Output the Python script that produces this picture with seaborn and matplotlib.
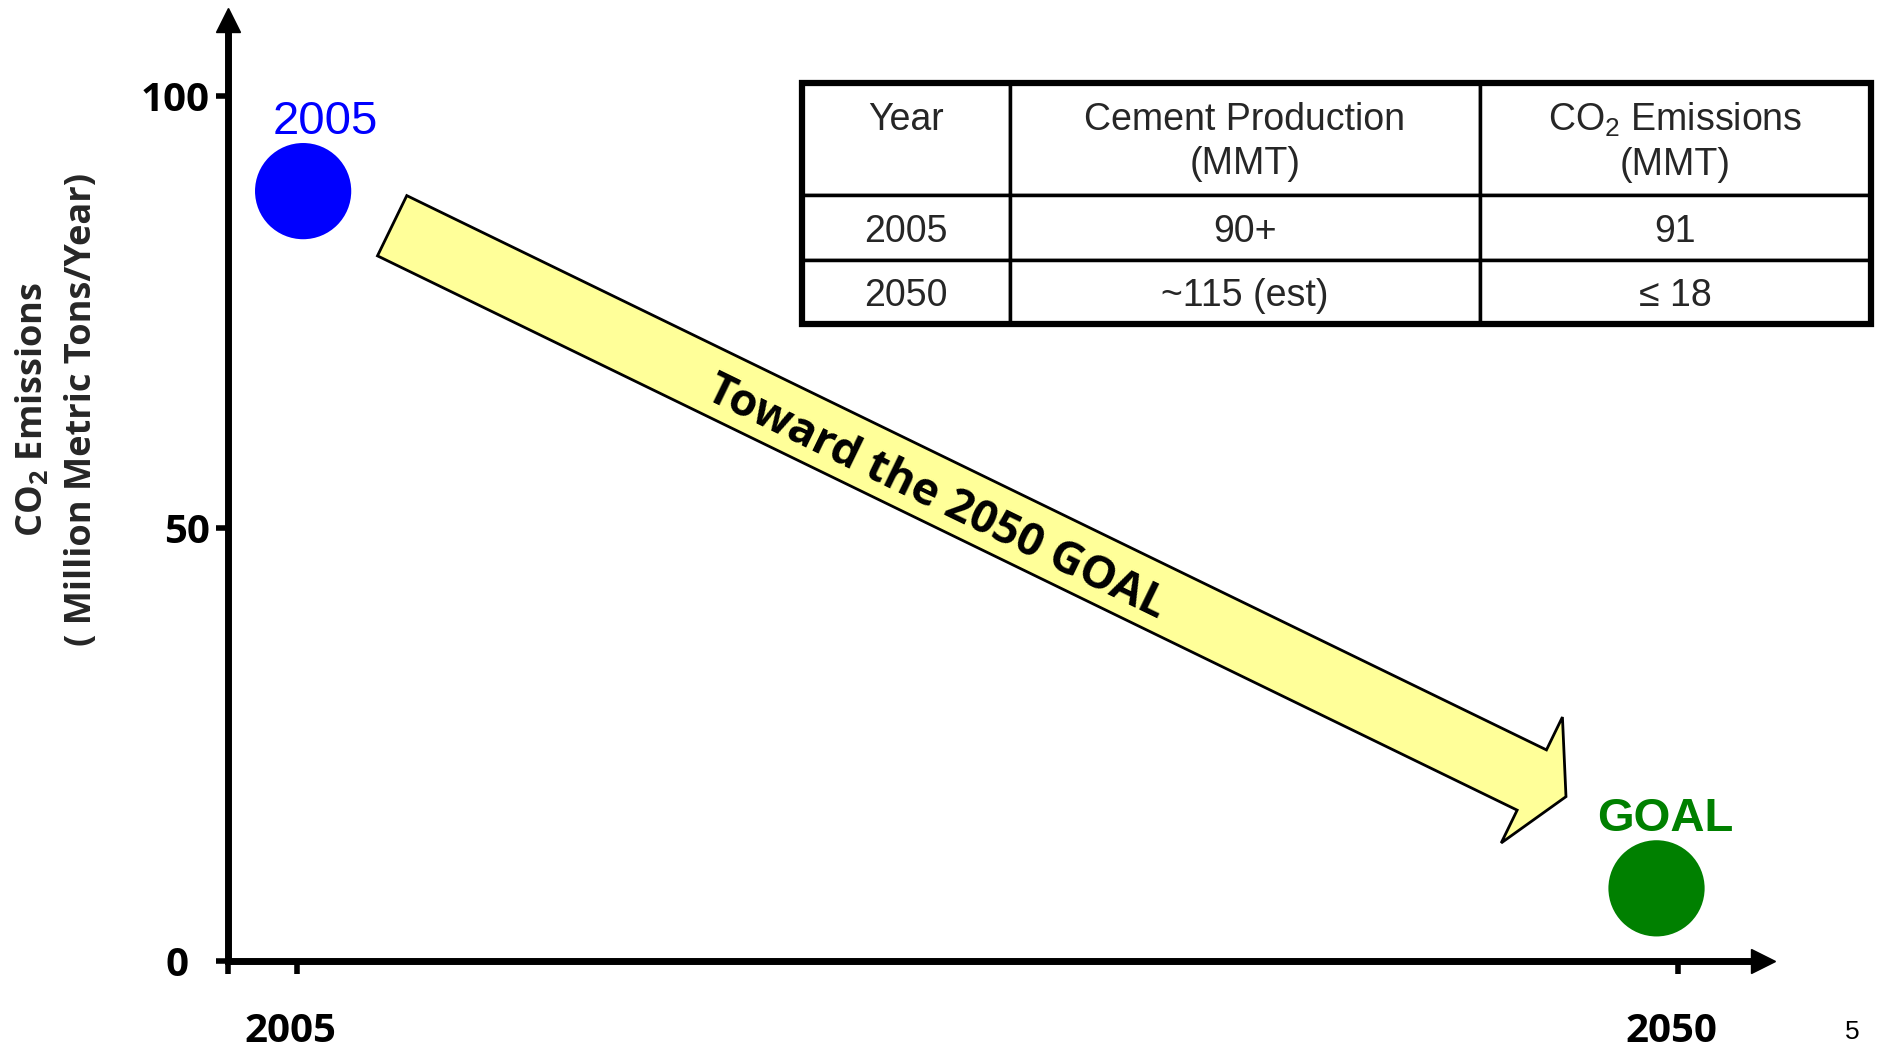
import numpy as np
import pandas as pd
import matplotlib
matplotlib.use("Agg")
import matplotlib.pyplot as plt
from matplotlib.patches import Polygon, Rectangle
from matplotlib.transforms import ScaledTranslation
import seaborn as sns

# === Data ===
point_labels = ["2005", "GOAL"]
point_years = [2005.2, 2049.3]
point_emissions = [89.0, 8.4]
point_colors = ["#0000FF", "#008000"]

y_ticks = [0, 50, 100]
y_tick_labels = ["0  ", "50", "100"]
x_ticks = [2005, 2050]

# arrow from near the 2005 point toward the goal (data coords)
arrow_start = (2008.1, 85.0)
arrow_end = (2046.35, 19.0)
arrow_text = "Toward the 2050 GOAL"

table_header = ["Year\n", "Cement Production\n(MMT)", "CO$_2$ Emissions\n(MMT)"]
table_years = ["2005", "2050"]
cement_production = ["90+", "~115 (est)"]
co2_emissions = ["91", "\u2264 18"]

df = pd.DataFrame({"year": point_years, "co2": point_emissions, "label": point_labels})

sns.set_theme(style="white")
plt.rcParams["font.family"] = ["Open Sans", "DejaVu Sans"]
plt.rcParams["mathtext.default"] = "regular"

W, H = 1877, 1048
fig = plt.figure(figsize=(W / 100, H / 100), dpi=100)
fig.patch.set_facecolor("white")

# axes frame in pixel terms of the slide
x_left, x_right = 2002.752, 2052.786
y_bottom, y_top = 0, 108.84
ax = fig.add_axes([228 / W, 1 - 961 / H, (1763.5 - 228) / W, (961 - 19.5) / H])

sns.scatterplot(data=df, x="year", y="co2", hue="label", palette=point_colors,
                s=4800, linewidth=0, legend=False, ax=ax, zorder=3)

ax.set_xlim(x_left, x_right)
ax.set_ylim(y_bottom, y_top)
ax.set_xlabel("")
ax.set_ylabel("")
ax.set_facecolor("white")

# axes as arrows
for s in ["top", "right"]:
    ax.spines[s].set_visible(False)
for s in ["left", "bottom"]:
    ax.spines[s].set_linewidth(5)
    ax.spines[s].set_color("black")
ax.plot(0, 1, marker="^", ms=16.6, color="black", transform=ax.transAxes, clip_on=False)
ax.plot(1, 0, marker=">", ms=16.6, color="black", transform=ax.transAxes, clip_on=False)

ax.set_yticks(y_ticks)
ax.set_yticklabels(y_tick_labels)
ax.set_xticks([x_left] + x_ticks)
ax.set_xticklabels([""] + [str(t) for t in x_ticks])
ax.tick_params(axis="both", direction="out", length=9, width=4, color="black",
               labelsize=29, labelcolor="black")
ax.tick_params(axis="y", pad=4, left=True)
ax.tick_params(axis="x", pad=28, bottom=True)
for lab in ax.get_xticklabels() + ax.get_yticklabels():
    lab.set_fontweight("bold")
# year labels sit slightly left of their ticks
shift = ScaledTranslation(-5 / 72, 0, fig.dpi_scale_trans)
for lab in ax.get_xticklabels():
    lab.set_transform(lab.get_transform() + shift)

# point labels
ax.annotate(point_labels[0], xy=(point_years[0], point_emissions[0]), xytext=(16, 41),
            textcoords="offset points", ha="center", va="baseline",
            color=point_colors[0], fontsize=34, family="Liberation Sans")
ax.annotate(point_labels[1], xy=(point_years[1], point_emissions[1]), xytext=(6, 41),
            textcoords="offset points", ha="center", va="baseline",
            color=point_colors[1], fontsize=34, fontweight="bold", family="Liberation Sans")

# block arrow built in display space
tail = ax.transData.transform(arrow_start)
tip = ax.transData.transform(arrow_end)
vec = tip - tail
L = np.hypot(*vec)
d = vec / L
n = np.array([-d[1], d[0]])
shaft_w, head_w, head_len = 33.5, 70, 38
base = tail + d * (L - head_len)
pts = np.array([
    tail + n * shaft_w,
    base + n * shaft_w,
    base + n * head_w,
    tip,
    base - n * head_w,
    base - n * shaft_w,
    tail - n * shaft_w,
])
pts_fig = fig.transFigure.inverted().transform(pts)
fig.add_artist(Polygon(pts_fig, closed=True, facecolor="#FFFF99", edgecolor="black",
                       linewidth=2, transform=fig.transFigure, zorder=5))
angle = np.degrees(np.arctan2(d[1], d[0]))
mid = tail + d * L * 0.466 - n * 2
mid_fig = fig.transFigure.inverted().transform(mid)
fig.text(mid_fig[0], mid_fig[1], arrow_text, rotation=angle, rotation_mode="anchor",
         ha="center", va="center_baseline", fontsize=32.7, fontweight="bold",
         family="Open Sans", color="black", zorder=6)

# y label
fig.text(57 / W, 1 - 409 / H, "CO$_2$ Emissions\n( Million Metric Tons/Year)",
         rotation=90, ha="center", va="center", multialignment="center",
         fontsize=26, fontweight="bold", family="Open Sans", linespacing=1.5)

# table
ax_t = fig.add_axes([802 / W, 1 - 324 / H, (1871 - 802) / W, (324 - 83) / H])
ax_t.axis("off")
rows = [[yr, cp, co] for yr, cp, co in zip(table_years, cement_production, co2_emissions)]
col_w = [208, 470, 391]
row_h = [112, 65, 64]
tab = ax_t.table(cellText=rows, colLabels=table_header, colWidths=[c / sum(col_w) for c in col_w],
                 cellLoc="center", bbox=[0, 0, 1, 1])
tab.auto_set_font_size(False)
tab.set_fontsize(27)
nudge_rows = ScaledTranslation(0, -3 / 72, fig.dpi_scale_trans)
nudge_head = ScaledTranslation(0, -2 / 72, fig.dpi_scale_trans)
for (r, c), cell in tab.get_celld().items():
    cell.set_linewidth(2.5)
    cell.set_edgecolor("black")
    cell.set_height(row_h[r] / sum(row_h))
    txt = cell.get_text()
    txt.set_fontfamily("Liberation Sans")
    txt.set_linespacing(1.3)
    txt.set_transform(txt.get_transform() + (nudge_rows if r > 0 else nudge_head))
ax_t.add_patch(Rectangle((0, 0), 1, 1, fill=False, linewidth=4.5, edgecolor="black",
                         transform=ax_t.transAxes, clip_on=False))

# slide number
fig.text(1852 / W, 1 - 1032 / H, "5", ha="center", va="center", fontsize=19,
         family="Liberation Sans", color="black")

fig.savefig("out.png", dpi=100, facecolor="white")
